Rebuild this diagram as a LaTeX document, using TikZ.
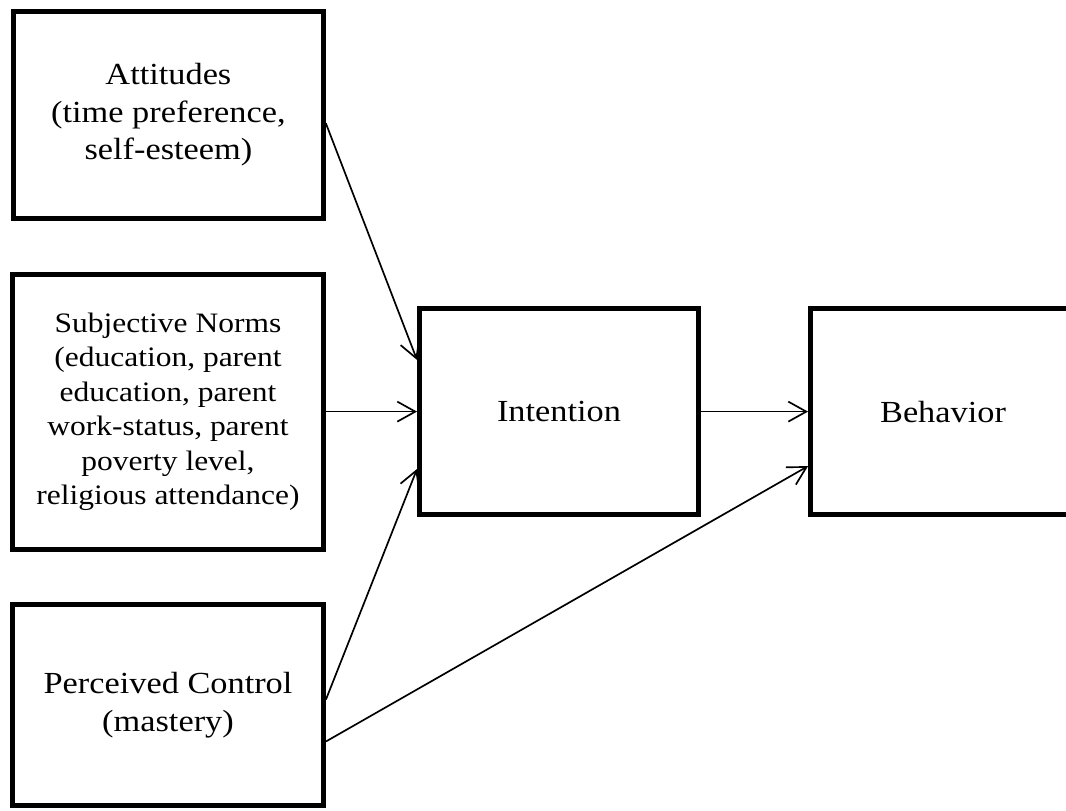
\documentclass[tikz,border=0pt]{standalone}
\usepackage{fontspec}
\setmainfont{Liberation Serif}[FakeStretch=1.12]
\usetikzlibrary{arrows.meta}
\newcommand{\bigtext}{\fontsize{21.8}{26.7}\selectfont}
\newcommand{\smalltext}{\fontsize{20}{24.5}\selectfont}
\tikzset{
  box/.style={draw, line width=3.5pt, outer sep=1.75pt, inner sep=0pt, align=center, font=\bigtext},
  arr/.style={-{Straight Barb[length=0.45cm,width=0.5cm]}, line width=1.2pt}
}

\begin{document}
\begin{tikzpicture}
    \useasboundingbox (0,0) rectangle (26.65,-20.25);
    \node[box, minimum width=7.75cm, minimum height=5.175cm] (att) at (4.21,-2.875) {Attitudes\\(time preference,\\self-esteem)};
    \node[box, minimum width=7.775cm, minimum height=6.875cm, font=\smalltext] (norm) at (4.2,-10.29) {Subjective Norms\\(education, parent\\education, parent\\work-status, parent\\poverty level,\\religious attendance)};
    \node[box, minimum width=7.775cm, minimum height=5.025cm] (ctrl) at (4.2,-17.625) {Perceived Control\\(mastery)};
    \node[box, minimum width=6.975cm, minimum height=5.15cm] (int) at (13.975,-10.29) {Intention};
    \node[box, minimum width=6.625cm, minimum height=5.15cm] (beh) at (23.575,-10.29) {Behavior};
    \draw[arr] (att.357) -- (int.160);
    \draw[arr] (norm.east) -- (norm.east -| int.west);
    \draw[arr] (ctrl.2) -- (int.202);
    \draw[arr] (ctrl.347) -- (beh.202);
    \draw[arr] (int.east) -- (beh.west);
\end{tikzpicture}
\end{document}
